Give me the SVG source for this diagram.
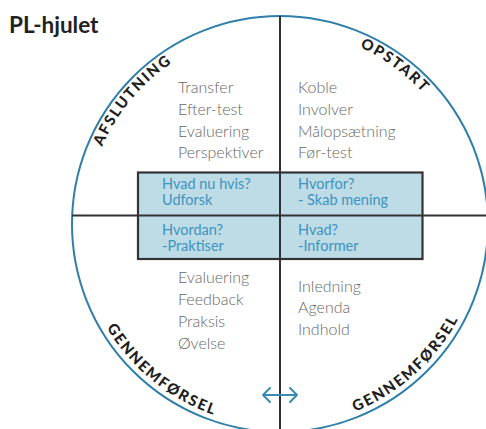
<svg xmlns="http://www.w3.org/2000/svg" width="486" height="429" viewBox="0 0 486 429">
<style>
.title{font-family:Lato,"Liberation Sans",sans-serif;font-weight:700;font-size:22.5px;fill:#222}
.list{font-family:Lato,"Liberation Sans",sans-serif;font-weight:300;font-size:16px;fill:#666}
.box{font-family:Lato,"Liberation Sans",sans-serif;font-weight:400;font-size:14.5px;fill:#3f93bf}
.arc{font-family:Lato,"Liberation Sans",sans-serif;font-weight:900;font-size:15px;fill:#1e1e1e;letter-spacing:1.8px}
.line{stroke:#333;stroke-width:2;fill:none}
</style>
<defs>
<path id="pTL" d="M97.7,290.4 A194,194 0 0 1 313.7,33.0"/>
<path id="pTR" d="M201.1,46.8 A194,194 0 0 1 472.9,244.3"/>
<path id="pBL" d="M80.5,192.4 A202,202 0 0 0 352.4,412.6"/>
<path id="pBR" d="M217.6,416.1 A202,202 0 0 0 477.6,182.0"/>
</defs>
<rect width="486" height="429" fill="#fff"/>
<text class="title" x="9" y="33">PL-hjulet</text>
<g id="wheel">
<circle cx="280" cy="224" r="208" fill="none" stroke="#2f7fa8" stroke-width="2"/>
</g>
<g id="connectors">
<line class="line" x1="280" y1="16" x2="280" y2="429"/>
<line class="line" x1="72" y1="215.5" x2="486" y2="215.5"/>
</g>
<g id="box">
<rect x="138" y="172.5" width="284.5" height="86.5" fill="#bddce6" stroke="#333" stroke-width="2.2"/>
<line class="line" x1="138" y1="215.5" x2="422.5" y2="215.5" stroke-width="2.2"/>
<line class="line" x1="280" y1="172.5" x2="280" y2="259" stroke-width="2.2"/>
</g>
<g id="q-tl"><text class="box" x="162" y="189">Hvad nu hvis?</text><text class="box" x="162" y="205">Udforsk</text></g>
<g id="q-tr"><text class="box" x="298" y="189">Hvorfor?</text><text class="box" x="298" y="205">- Skab mening</text></g>
<g id="q-bl"><text class="box" x="162" y="235">Hvordan?</text><text class="box" x="162" y="251">-Praktiser</text></g>
<g id="q-br"><text class="box" x="298" y="235">Hvad?</text><text class="box" x="298" y="251">-Informer</text></g>
<g id="afslutning">
<text class="list" x="178" y="93">Transfer</text>
<text class="list" x="178" y="115">Efter-test</text>
<text class="list" x="178" y="137">Evaluering</text>
<text class="list" x="178" y="158">Perspektiver</text>
<text class="arc"><textPath href="#pTL" startOffset="50%" text-anchor="middle">AFSLUTNING</textPath></text>
</g>
<g id="opstart">
<text class="list" x="298" y="93">Koble</text>
<text class="list" x="298" y="115">Involver</text>
<text class="list" x="298" y="137">Målopsætning</text>
<text class="list" x="298" y="158">Før-test</text>
<text class="arc"><textPath href="#pTR" startOffset="50%" text-anchor="middle">OPSTART</textPath></text>
</g>
<g id="gennemfoersel-left">
<text class="list" x="178" y="283">Evaluering</text>
<text class="list" x="178" y="305">Feedback</text>
<text class="list" x="178" y="327">Praksis</text>
<text class="list" x="178" y="349">Øvelse</text>
<text class="arc"><textPath href="#pBL" startOffset="50%" text-anchor="middle">GENNEMFØRSEL</textPath></text>
</g>
<g id="gennemfoersel-right">
<text class="list" x="298" y="292">Inledning</text>
<text class="list" x="298" y="313">Agenda</text>
<text class="list" x="298" y="335">Indhold</text>
<text class="arc"><textPath href="#pBR" startOffset="50%" text-anchor="middle">GENNEMFØRSEL</textPath></text>
</g>
<g id="arrow" fill="none" stroke="#3a8ab3" stroke-width="2" stroke-linecap="round" stroke-linejoin="round">
<path d="M263,395 H297 M270,388 L263,395 L270,402 M290,388 L297,395 L290,402"/>
</g>
</svg>
